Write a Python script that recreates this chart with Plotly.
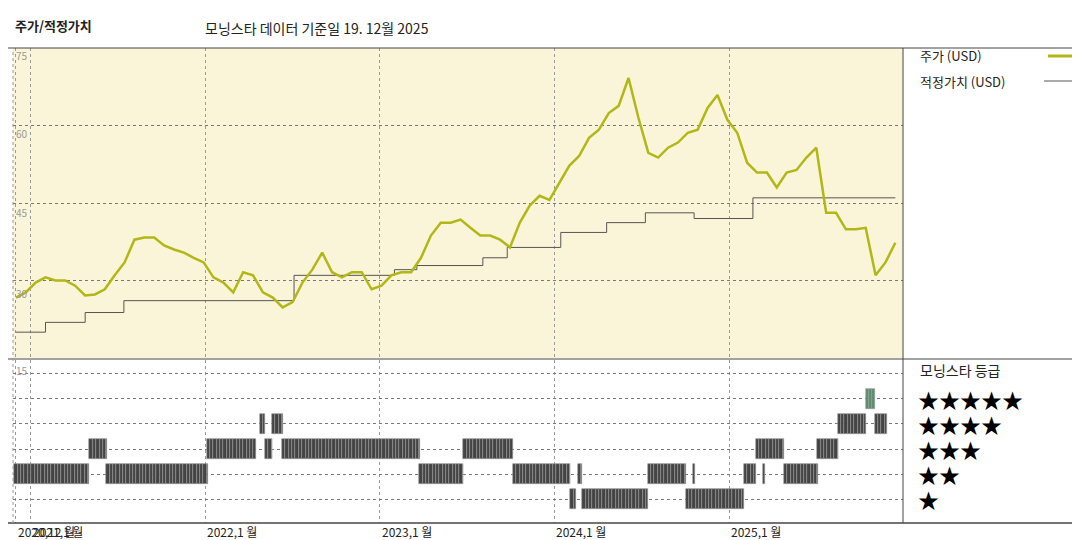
import plotly.graph_objects as go
import pandas as pd

price_values = [26.7,27.7,29.6,30.6,30.0,30.0,29.0,27.1,27.3,28.3,31.0,33.5,37.9,38.3,38.3,36.8,36.0,35.4,34.4,33.5,
30.6,29.6,27.7,31.6,31.0,27.7,26.7,24.8,25.8,29.6,32.1,35.4,31.6,30.6,31.6,31.6,28.3,29.0,31.0,31.6,
31.6,34.4,38.7,41.2,41.2,41.8,40.2,38.7,38.7,37.9,36.4,41.2,44.5,46.4,45.6,48.9,52.2,54.1,57.6,59.2,
62.4,63.8,69.2,61.5,54.7,53.8,55.7,56.7,58.6,59.2,63.4,65.9,61.1,58.6,52.8,50.9,50.9,48.0,50.9,51.4,
53.8,55.7,43.1,43.1,39.9,39.9,40.2,31.0,33.5,37.3]
price_dates = pd.date_range("2020-12-01", "2025-12-15", periods=len(price_values))

fv_dates = ["2020-12-01","2021-02-01","2021-04-25","2021-07-15","2022-07-06","2023-02-01","2023-03-20",
            "2023-08-05","2023-09-25","2024-01-15","2024-04-20","2024-07-10","2024-10-20","2025-02-20","2025-12-15"]
fv_values = [20.0,21.9,23.8,26.1,31.0,32.1,32.9,34.4,36.4,39.3,41.2,43.1,42.0,46.0,46.0]

rating_segments = [
    ("2020-11-28","2021-05-04",2),("2021-05-04","2021-06-08",3),("2021-06-08","2022-01-04",2),
    ("2022-01-04","2022-04-18",3),("2022-04-26","2022-05-06",4),("2022-05-06","2022-05-21",3),
    ("2022-05-21","2022-06-11",4),("2022-06-11","2023-03-25",3),("2023-03-25","2023-06-25",2),
    ("2023-06-25","2023-10-07",3),("2023-10-07","2024-02-04",2),("2024-02-04","2024-02-16",1),
    ("2024-02-19","2024-02-29",2),("2024-02-29","2024-07-15",1),("2024-07-15","2024-10-02",2),
    ("2024-10-02","2025-02-01",1),("2024-10-18","2024-10-21",2),("2025-02-01","2025-02-26",2),
    ("2025-02-26","2025-04-26",3),("2025-03-14","2025-03-17",2),("2025-04-26","2025-07-05",2),
    ("2025-07-05","2025-08-16",3),("2025-08-16","2025-10-14",4),("2025-10-14","2025-11-02",5),
    ("2025-11-02","2025-11-27",4),
]

x_tick_dates = ["2020-12-01","2021-01-01","2022-01-01","2023-01-01","2024-01-01","2025-01-01"]
x_tick_labels = ["2020,12 월","2021,1 월","2022,1 월","2023,1 월","2024,1 월","2025,1 월"]
y_ticks = [30,45,60,75]

W, H = 1080, 540
MT, MB = 40, 25
def py(p):
    return (H - MB - p) / (H - MT - MB)
def px(p):
    return p / W

fig = go.Figure()
fig.add_trace(go.Scatter(x=fv_dates, y=fv_values, mode="lines", line=dict(color="#555555", width=1, shape="hv"),
                         xaxis="x", yaxis="y", hoverinfo="skip"))
fig.add_trace(go.Scatter(x=price_dates, y=price_values, mode="lines", line=dict(color="#b3b617", width=2.5),
                         xaxis="x", yaxis="y"))

# rating bars, weekly strips
bx, bb, bw, bc = [], [], [], []
for s, e, r in rating_segments:
    for d in pd.date_range(s, e, freq="7D"):
        end = min(d + pd.Timedelta(days=7), pd.Timestamp(e))
        span = (end - d)
        if span.days < 1:
            span = pd.Timedelta(days=2)
        bx.append(d + span / 2)
        bw.append(span.total_seconds() * 1000)
        bb.append(r - 0.4)
        bc.append("#5a8f6e" if r == 5 else "#444444")
fig.add_trace(go.Bar(x=bx, y=[0.8]*len(bx), base=bb, width=bw, marker=dict(color=bc, line=dict(color="#999999", width=0.6)),
                     xaxis="x2", yaxis="y2"))

xr = ["2020-11-25", "2025-12-31"]
dom = [px(5), px(895)]
fig.update_layout(
    width=W, height=H, margin=dict(l=0, r=0, t=MT, b=MB), showlegend=False,
    paper_bgcolor="white", plot_bgcolor="white", bargap=0,
    xaxis=dict(domain=dom, range=xr, tickvals=x_tick_dates, showticklabels=False, showgrid=True,
               gridcolor="#999999", griddash="dot", gridwidth=1, zeroline=False, anchor="y"),
    yaxis=dict(domain=[py(350), 1], range=[15, 75], tickvals=y_ticks, showticklabels=False,
               gridcolor="#777777", griddash="dot", zeroline=False),
    xaxis2=dict(domain=dom, range=xr, tickvals=x_tick_dates, showticklabels=False, showgrid=True,
                gridcolor="#999999", griddash="dot", zeroline=False, anchor="y2"),
    yaxis2=dict(domain=[0, py(352)], range=[0.05, 6.55], tickvals=[1,2,3,4,5,6], showticklabels=False,
                gridcolor="#777777", griddash="dot", zeroline=False),
    font=dict(family="Noto Sans CJK KR", color="#222"),
)

shapes = [
    dict(type="rect", xref="paper", yref="paper", x0=px(5), x1=px(895), y0=py(350), y1=1,
         fillcolor="#faf5d8", line=dict(width=0), layer="below"),
    dict(type="line", xref="paper", yref="paper", x0=0, x1=1, y0=1, y1=1, line=dict(color="#444", width=1)),
    dict(type="line", xref="paper", yref="paper", x0=0, x1=1, y0=py(351), y1=py(351), line=dict(color="#444", width=1)),
    dict(type="line", xref="paper", yref="paper", x0=0, x1=1, y0=0, y1=0, line=dict(color="#444", width=1.5)),
    dict(type="line", xref="paper", yref="paper", x0=px(895), x1=px(895), y0=0, y1=1, line=dict(color="#444", width=1)),
    dict(type="line", xref="paper", yref="paper", x0=px(5), x1=px(5), y0=0, y1=1, line=dict(color="#999", width=1, dash="dot")),
    dict(type="line", xref="paper", yref="paper", x0=px(1040), x1=px(1072), y0=py(48), y1=py(48), line=dict(color="#b3b617", width=3)),
    dict(type="line", xref="paper", yref="paper", x0=px(1036), x1=px(1072), y0=py(73), y1=py(73), line=dict(color="#555", width=1)),
]
fig.update_layout(shapes=shapes)

ann = [
    dict(text="<b>주가/적정가치</b>", x=px(5), y=py(17), xanchor="left", font=dict(size=13)),
    dict(text="모닝스타 데이터 기준일 19. 12월 2025", x=px(195), y=py(20), xanchor="left", font=dict(size=14)),
    dict(text="주가 (USD)", x=px(910), y=py(48), xanchor="left", font=dict(size=13)),
    dict(text="적정가치 (USD)", x=px(910), y=py(73), xanchor="left", font=dict(size=13)),
    dict(text="모닝스타 등급", x=px(910), y=py(362), xanchor="left", font=dict(size=14)),
    dict(text="15", x=px(6), y=py(362), xanchor="left", font=dict(size=10, color="#999")),
]
for i, n in enumerate([5,4,3,2,1]):
    ann.append(dict(text="★"*n, x=px(908), y=py(391 + i*25), xanchor="left", font=dict(size=21, color="black")))
ylab_px = {75: 48, 60: 125, 45: 205, 30: 285}
for v in y_ticks:
    ann.append(dict(text=str(v), x=px(6), y=py(ylab_px[v]), xanchor="left", font=dict(size=10, color="#999")))
for d, l in zip(x_tick_dates, x_tick_labels):
    ann.append(dict(text=l, x=d, xref="x2", y=py(523), yref="paper", xanchor="left", font=dict(size=12), showarrow=False))
for a in ann:
    a.setdefault("xref", "paper"); a.setdefault("yref", "paper"); a["showarrow"] = False; a.setdefault("yanchor", "middle")
fig.update_layout(annotations=ann)

fig.write_html("out.html")
